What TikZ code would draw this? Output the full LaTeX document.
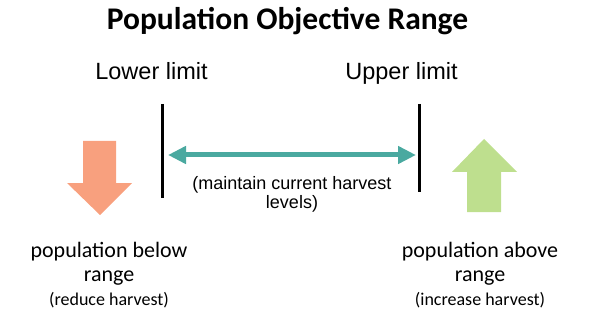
\documentclass[tikz,border=0pt]{standalone}
\usepackage{fontspec}
\setmainfont{Carlito}
\newfontfamily\arialfont{Liberation Sans}
\usepackage{tikz}
\usetikzlibrary{arrows.meta,positioning}

\definecolor{rangeteal}{HTML}{4AA9A0}
\definecolor{reducesalmon}{HTML}{F8A07E}
\definecolor{raisegreen}{HTML}{BEDF8E}

\begin{document}
\begin{tikzpicture}[x=1pt,y=-1pt,
  limit/.style={font=\arialfont\fontsize{23.5}{28}\selectfont,inner sep=0pt,anchor=base},
  verdict/.style={font=\fontsize{22}{24}\selectfont,inner sep=0pt,anchor=base,align=center},
  bar/.style={line width=3pt},
  keep/.style={line width=5pt,rangeteal,{Triangle[length=18pt,width=17pt]}-{Triangle[length=18pt,width=17pt]}}]
\useasboundingbox (0,0) rectangle (590,321);
\node[font=\bfseries\fontsize{31.5}{36}\selectfont,inner sep=0pt,anchor=base] (title) at (287.5,30) {Population Objective Range};
\node[limit] (lower) at (151.5,80) {Lower limit};
\node[limit] (upper) at (401.5,80) {Upper limit};
% the two limits
\coordinate (lotop) at (162,104);
\coordinate (lobot) at (162,198);
\coordinate (hitop) at (419,104);
\coordinate (hibot) at (419,192);
\draw[bar] (lotop) -- (lobot);
\draw[bar] (hitop) -- (hibot);
\coordinate (lo) at (168,155);
\coordinate (hi) at (416,155);
\draw[keep] (lo) -- (hi);
\node[font=\arialfont\fontsize{18}{19}\selectfont,inner sep=0pt,anchor=base,align=center] (keeptxt) at (292,208) {(maintain current harvest\\levels)};
% block arrows
\fill[reducesalmon] (83,141) -- (116,141) -- (116,183) -- (132,183) -- (100,215) -- (67,183) -- (83,183) -- cycle;
\fill[raisegreen] (467,212) -- (501,212) -- (501,172) -- (517,172) -- (484,139) -- (452,172) -- (467,172) -- cycle;
\node[verdict] (below) at (109,305) {population below\\range\\{\fontsize{18}{24}\selectfont(reduce harvest)}};
\node[verdict] (above) at (480,305) {population above\\range\\{\fontsize{18}{24}\selectfont(increase harvest)}};
\end{tikzpicture}
\end{document}
